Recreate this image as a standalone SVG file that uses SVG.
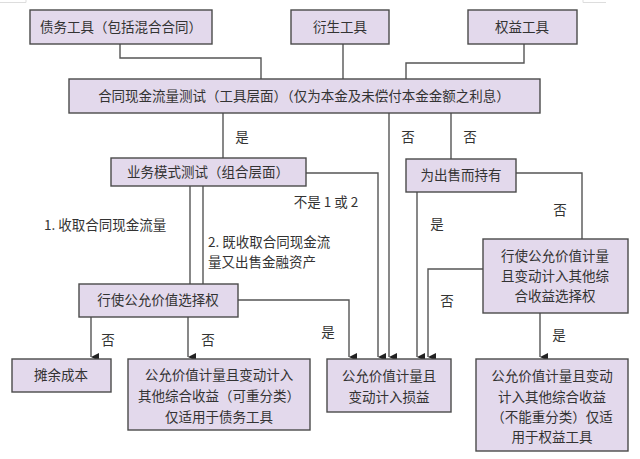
<svg xmlns="http://www.w3.org/2000/svg" width="640" height="459" viewBox="0 0 640 459">
<defs>
<marker id="arr" viewBox="0 0 8 8" refX="4" refY="8" markerWidth="8" markerHeight="8" markerUnits="userSpaceOnUse" orient="auto-start-reverse">
<path d="M0,0 L8,0 L4,8 Z" fill="#222"/>
</marker>
<style>
.box{fill:#e3d9ec;stroke:#4a4a4a;stroke-width:1.4}
.t{font-family:"Noto Sans CJK SC","Noto Sans",sans-serif;font-size:13.5px;fill:#333;text-anchor:middle}
.l{font-family:"Noto Sans CJK SC","Noto Sans",sans-serif;font-size:13.5px;fill:#333}
.c{fill:none;stroke:#555;stroke-width:1.4}
.a{fill:none;stroke:#555;stroke-width:1.4;marker-end:url(#arr)}
.corner{fill:none;stroke:#ddd;stroke-width:1}
</style>
</defs>
<rect width="640" height="459" fill="#fff"/>
<path class="corner" d="M0,2.5 H26 V0 M583,0 V2.5 H606"/>

<g id="connectors">
<path class="c" d="M120,44 V58 H261 V79"/>
<path class="c" d="M343,44 V79"/>
<path class="c" d="M524,44 V63 H406 V79"/>
<path class="c" d="M223,113 V158"/>
<path class="a" d="M389,113 V357"/>
<path class="c" d="M451,113 V159"/>
<path class="a" d="M306,173 H378 V357"/>
<path class="c" d="M190,186 V284"/>
<path class="c" d="M203,186 V284"/>
<path class="a" d="M238,300 H349 V357"/>
<path class="a" d="M91,317 V357"/>
<path class="a" d="M188,317 V357"/>
<path class="a" d="M417,192 V357"/>
<path class="c" d="M516,173 H582 V239"/>
<path class="a" d="M483,269 H428 V357"/>
<path class="a" d="M540,313 V357"/>
</g>

<g id="labels">
<text class="t" x="242" y="142">是</text>
<text class="t" x="408" y="142">否</text>
<text class="t" x="470" y="142">否</text>
<text class="t" x="326" y="207">不是 1 或 2</text>
<text class="l" x="44" y="230">1. 收取合同现金流量</text>
<text class="l" x="208" y="247">2. 既收取合同现金流</text>
<text class="l" x="208" y="267">量又出售金融资产</text>
<text class="t" x="437" y="229">是</text>
<text class="t" x="560" y="215">否</text>
<text class="t" x="447" y="306">否</text>
<text class="t" x="559" y="340">是</text>
<text class="t" x="108" y="345">否</text>
<text class="t" x="208" y="345">否</text>
<text class="t" x="328" y="337">是</text>
</g>

<g id="n-debt"><rect class="box" x="30" y="10" width="182" height="34"/><text class="t" x="121" y="32">债务工具（包括混合合同）</text></g>
<g id="n-deriv"><rect class="box" x="291" y="10" width="98" height="34"/><text class="t" x="340" y="32">衍生工具</text></g>
<g id="n-equity"><rect class="box" x="468" y="10" width="109" height="34"/><text class="t" x="522" y="32">权益工具</text></g>
<g id="n-cf"><rect class="box" x="69" y="79" width="471" height="34"/><text class="t" x="304" y="101">合同现金流量测试（工具层面）（仅为本金及未偿付本金金额之利息）</text></g>
<g id="n-bm"><rect class="box" x="111" y="158" width="195" height="28"/><text class="t" x="208" y="177">业务模式测试（组合层面）</text></g>
<g id="n-sale"><rect class="box" x="406" y="159" width="110" height="33"/><text class="t" x="461" y="180">为出售而持有</text></g>
<g id="n-fvo"><rect class="box" x="79" y="284" width="159" height="33"/><text class="t" x="158" y="305">行使公允价值选择权</text></g>
<g id="n-oci-opt"><rect class="box" x="483" y="239" width="145" height="74"/>
<text class="t" x="555" y="261">行使公允价值计量</text>
<text class="t" x="555" y="281">且变动计入其他综</text>
<text class="t" x="555" y="301">合收益选择权</text></g>
<g id="n-amort"><rect class="box" x="12" y="359" width="99" height="33"/><text class="t" x="61" y="380">摊余成本</text></g>
<g id="n-oci-debt"><rect class="box" x="128" y="359" width="182" height="71"/>
<text class="t" x="219" y="380">公允价值计量且变动计入</text>
<text class="t" x="219" y="401">其他综合收益（可重分类）</text>
<text class="t" x="219" y="422">仅适用于债务工具</text></g>
<g id="n-fvpl"><rect class="box" x="327" y="359" width="124" height="53"/>
<text class="t" x="389" y="381">公允价值计量且</text>
<text class="t" x="389" y="402">变动计入损益</text></g>
<g id="n-oci-eq"><rect class="box" x="476" y="359" width="152" height="92"/>
<text class="t" x="552" y="381">公允价值计量且变动</text>
<text class="t" x="552" y="402">计入其他综合收益</text>
<text class="t" x="552" y="422">（不能重分类）仅适</text>
<text class="t" x="552" y="442">用于权益工具</text></g>
</svg>
